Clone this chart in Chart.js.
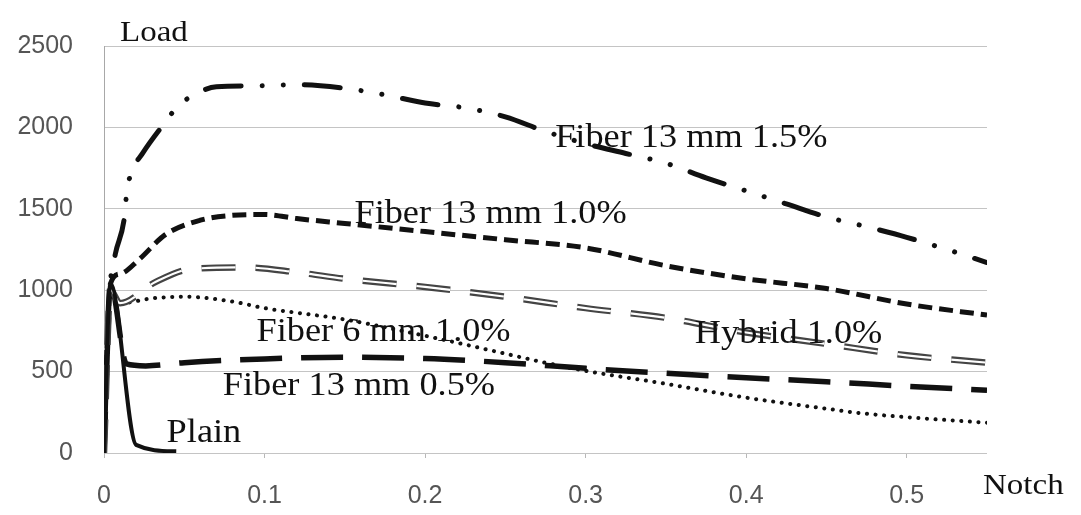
<!DOCTYPE html>
<html>
<head>
<meta charset="utf-8">
<script src="https://cdn.jsdelivr.net/npm/chart.js@4.4.0/dist/chart.umd.min.js"></script>
<style>
  html, body { margin: 0; padding: 0; background: #fff; }
  #wrap { width: 1081px; height: 515px; }
</style>
</head>
<body>
<div id="wrap"><canvas id="chart"></canvas></div>
<script>
// axis ticks
const xTicks = [0, 0.1, 0.2, 0.3, 0.4, 0.5]
const yTicks = [0, 500, 1000, 1500, 2000, 2500]

// series (notch vs load)
const f15Notch = [0, 0.004, 0.007, 0.013, 0.014, 0.017, 0.024, 0.038, 0.046, 0.058, 0.07, 0.095, 0.12, 0.15, 0.175, 0.2, 0.225, 0.25, 0.275, 0.3, 0.325, 0.35, 0.375, 0.4, 0.425, 0.45, 0.475, 0.5, 0.525, 0.55]
const f15Load  = [0, 1040, 1220, 1470, 1590, 1720, 1840, 2030, 2130, 2210, 2250, 2255, 2262, 2240, 2200, 2150, 2120, 2065, 1975, 1900, 1840, 1780, 1690, 1610, 1530, 1450, 1390, 1325, 1250, 1170]

const f10Notch = [0, 0.004, 0.01, 0.022, 0.038, 0.06, 0.08, 0.1, 0.12, 0.15, 0.2, 0.25, 0.3, 0.35, 0.4, 0.45, 0.5, 0.55]
const f10Load  = [0, 1040, 1100, 1190, 1340, 1430, 1460, 1465, 1440, 1410, 1360, 1310, 1260, 1150, 1070, 1010, 915, 847]

const hybNotch = [0, 0.004, 0.01, 0.032, 0.054, 0.088, 0.12, 0.15, 0.2, 0.25, 0.3, 0.35, 0.4, 0.45, 0.5, 0.55]
const hybLoad  = [0, 1000, 920, 1050, 1130, 1140, 1110, 1070, 1020, 960, 890, 830, 740, 670, 600, 555]

const f6Notch = [0, 0.004, 0.01, 0.03, 0.05, 0.08, 0.1, 0.15, 0.2, 0.25, 0.27, 0.3, 0.35, 0.4, 0.45, 0.47, 0.5, 0.55]
const f6Load  = [0, 1000, 920, 950, 960, 930, 890, 820, 720, 610, 565, 505, 425, 340, 272, 246, 220, 186]

const f05Notch = [0, 0.004, 0.014, 0.026, 0.05, 0.1, 0.15, 0.2, 0.25, 0.3, 0.35, 0.4, 0.45, 0.5, 0.55]
const f05Load  = [0, 1040, 547, 535, 555, 578, 588, 580, 555, 520, 490, 462, 438, 410, 385]

const plainNotch = [0, 0.004, 0.02, 0.045]
const plainLoad  = [0, 1040, 50, 10]

// curve names, placed next to their curves (notch, load)
const curveLabels = [
  { text: 'Fiber 13 mm 1.5%', x: 0.281, y: 1935 },
  { text: 'Fiber 13 mm 1.0%', x: 0.156, y: 1465 },
  { text: 'Fiber 6 mm 1.0%', x: 0.095, y: 742 },
  { text: 'Hybrid 1.0%', x: 0.368, y: 730 },
  { text: 'Fiber 13 mm 0.5%', x: 0.074, y: 412 },
  { text: 'Plain', x: 0.039, y: 123 }
]

const zip = (xs, ys) => xs.map((v, i) => ({ x: v, y: ys[i] }))

const serif = '"Liberation Serif", "Times New Roman", serif'
const sans = '"Liberation Sans", Arial, sans-serif'

function line(data, opts) {
  return {
    data,
    pointRadius: 0,
    borderColor: '#111',
    cubicInterpolationMode: 'monotone',
    fill: false,
    ...opts
  }
}

function stretchedText(ctx, text, px, py) {
  ctx.save()
  ctx.translate(px, py)
  ctx.scale(1.1, 1)
  ctx.fillText(text, 0, 0)
  ctx.restore()
}

const textPlugin = {
  id: 'curveText',
  afterDatasetsDraw(chart) {
    const { ctx, chartArea, scales } = chart
    ctx.save()
    ctx.fillStyle = '#111'
    ctx.textAlign = 'left'
    ctx.textBaseline = 'middle'
    ctx.font = '33px ' + serif
    curveLabels.forEach(l => {
      stretchedText(ctx, l.text, scales.x.getPixelForValue(l.x), scales.y.getPixelForValue(l.y))
    })
    // axis names
    ctx.textBaseline = 'alphabetic'
    ctx.font = '30px ' + serif
    stretchedText(ctx, 'Load', chartArea.left + 16, chartArea.top - 5)
    stretchedText(ctx, 'Notch', chartArea.right - 4, chartArea.bottom + 41)
    ctx.restore()
  }
}

const ctx = document.getElementById('chart').getContext('2d')
new Chart(ctx, {
  type: 'line',
  data: {
    datasets: [
      line(zip(plainNotch, plainLoad), { borderWidth: 4, order: 0 }),
      line(zip(hybNotch, hybLoad), { borderWidth: 2.2, borderColor: '#fff', borderDash: [34, 20], order: 1 }),
      line(zip(hybNotch, hybLoad), { borderWidth: 6.5, borderColor: '#444', borderDash: [34, 20], order: 2 }),
      line(zip(f15Notch, f15Load), { borderWidth: 5, borderDash: [36, 21, 0.1, 21, 0.1, 21], borderCapStyle: 'round', order: 3 }),
      line(zip(f10Notch, f10Load), { borderWidth: 5, borderDash: [14, 7], order: 4 }),
      line(zip(f6Notch, f6Load), { borderWidth: 4, borderDash: [0.1, 8.5], borderCapStyle: 'round', order: 5 }),
      line(zip(f05Notch, f05Load), { borderWidth: 5.5, borderDash: [42, 19], order: 6 })
    ]
  },
  options: {
    responsive: true,
    maintainAspectRatio: false,
    animation: false,
    layout: { padding: { top: 37, right: 94, left: 0, bottom: 0 } },
    plugins: {
      legend: { display: false },
      tooltip: { enabled: false }
    },
    scales: {
      x: {
        type: 'linear',
        min: 0,
        max: 0.55,
        afterBuildTicks: s => { s.ticks = xTicks.map(v => ({ value: v })) },
        afterFit: s => { s.height = 62 },
        grid: { drawOnChartArea: false, drawTicks: true, tickLength: 5, color: '#b8b8b8' },
        border: { display: false },
        ticks: {
          padding: 23,
          autoSkip: false,
          maxRotation: 0,
          color: '#555',
          font: { family: sans, size: 25 },
          callback: v => String(v)
        }
      },
      y: {
        min: 0,
        max: 2500,
        afterBuildTicks: s => { s.ticks = yTicks.map(v => ({ value: v })) },
        afterFit: s => { s.width = 104 },
        grid: { color: '#c4c4c4', drawTicks: false },
        border: { display: true, color: '#a8a8a8' },
        ticks: {
          padding: 31,
          color: '#555',
          font: { family: sans, size: 25 },
          callback: v => String(v)
        }
      }
    }
  },
  plugins: [textPlugin]
})
</script>
</body>
</html>
